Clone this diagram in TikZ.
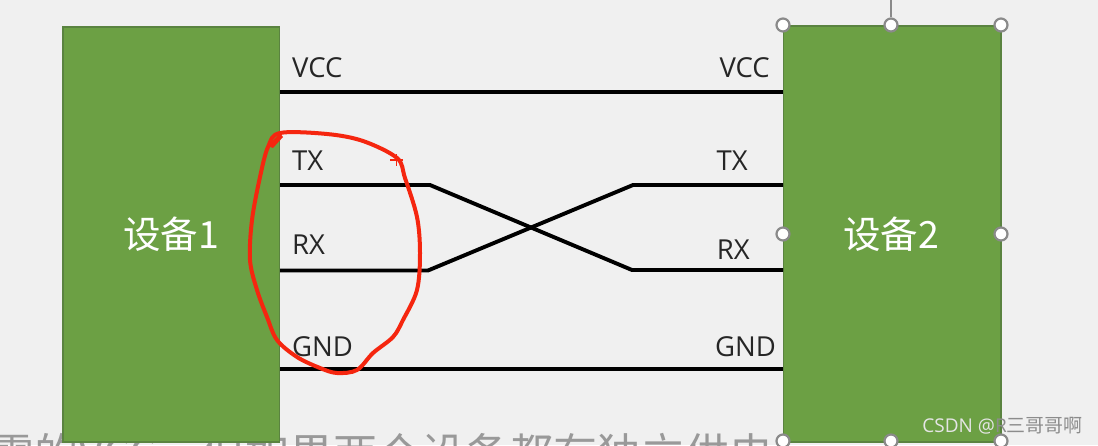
\documentclass[tikz,border=0pt]{standalone}
\usepackage{fontspec}
\setmainfont{Open Sans}
\newfontfamily\cjk{Noto Sans CJK SC}
\definecolor{bgc}{HTML}{F0F0F0}
\definecolor{devgreen}{HTML}{6CA044}
\definecolor{devedge}{HTML}{5A8340}
\definecolor{handle}{HTML}{8A8A8A}
\definecolor{ink}{HTML}{F5260F}
\definecolor{wmgrey}{HTML}{8C8C8C}
\tikzset{
  px/.style={x=1pt,y=-1pt},
  device/.style={draw=devedge,line width=1.2pt,fill=devgreen},
  devlabel/.style={text=white,font=\fontsize{37.5}{37.5}\selectfont\cjk},
  sig/.style={font=\fontsize{27.5}{27.5}\selectfont,text=black!85,inner sep=0pt},
  wire/.style={draw=black,line width=3.9pt,line join=miter},
  grip/.style={circle,draw=handle,line width=2.2pt,fill=white,minimum size=13pt,inner sep=0pt},
  freehand/.style={draw=ink,line width=4pt,line cap=round,line join=round},
}
\begin{document}
\begin{tikzpicture}[px]
\useasboundingbox (0,0) rectangle (1098,445);
\fill[bgc] (0,0) rectangle (1098,445);
% clipped subtitle
\begin{scope}
\clip (0,425) rectangle (1098,445);
\node[anchor=base west,inner sep=0pt,text=black!40,font=\fontsize{44}{44}\selectfont\cjk] (subtitle) at (-10,470) {需的VCC，但如果两个设备都有独立供电};
\end{scope}
% devices
\path[device] (63,27) rectangle (279.5,442);
\path[device] (783.5,26) rectangle (1001,442);
\node[devlabel] (lab1) at (171,234) {设备1};
\node[devlabel] (lab2) at (891,234) {设备2};
% handles
\coordinate (rot) at (891,0);
\foreach \n/\x/\y in {a/783/25,b/891/25,c/1001/25,d/783/234,e/1001/234,f/783/441,g/891/441,h/1001/441}
  \node[grip] (h\n) at (\x,\y) {};
\draw[handle,line width=1.5pt] (rot) -- (hb);
% wires
\draw[wire] (280,92) -- (783,92);
\draw[wire] (280,369) -- (783,369);
\draw[wire] (280,185) -- (430,185) -- (632,270) -- (783,270);
\draw[wire] (280,270.5) -- (428,270.5) -- (633,185) -- (783,185);
% labels
\node[sig,anchor=base west] (vccl) at (292,77) {VCC};
\node[sig,anchor=base west] (txl) at (292,170) {TX};
\node[sig,anchor=base west] (rxl) at (292,254) {RX};
\node[sig,anchor=base west] (gndl) at (292,356.5) {GND};
\node[sig,anchor=base east] (vccr) at (770,77) {VCC};
\node[sig,anchor=base east] (txr) at (748,170) {TX};
\node[sig,anchor=base east] (rxr) at (750,259) {RX};
\node[sig,anchor=base east] (gndr) at (776,356.5) {GND};
% freehand circle
\draw[freehand] plot[smooth cycle,tension=0.55] coordinates {
 (280,133) (327,134) (363,141) (397,158) (405,178) (417,217) (420,253)
 (417,290) (403,320) (393,337) (373,353) (357,370) (337,373) (320,368)
 (297,357) (277,340) (267,317) (257,290) (250,260) (252,220) (260,177) (268,147)};
\fill[ink] (268,146) -- (280,133) -- (283,137) -- (273,148) -- cycle;
\draw[ink,line width=1.2pt] (390,160) -- (403,160) (396.5,154) -- (396.5,166);
% watermark
\node[anchor=base east,inner sep=0pt,font=\fontsize{19}{19}\selectfont] (wm) at (1083,432) {\textcolor{white!90!black}{CSDN @}\textcolor{wmgrey}{R\cjk 三哥哥啊}};
\end{tikzpicture}
\end{document}
